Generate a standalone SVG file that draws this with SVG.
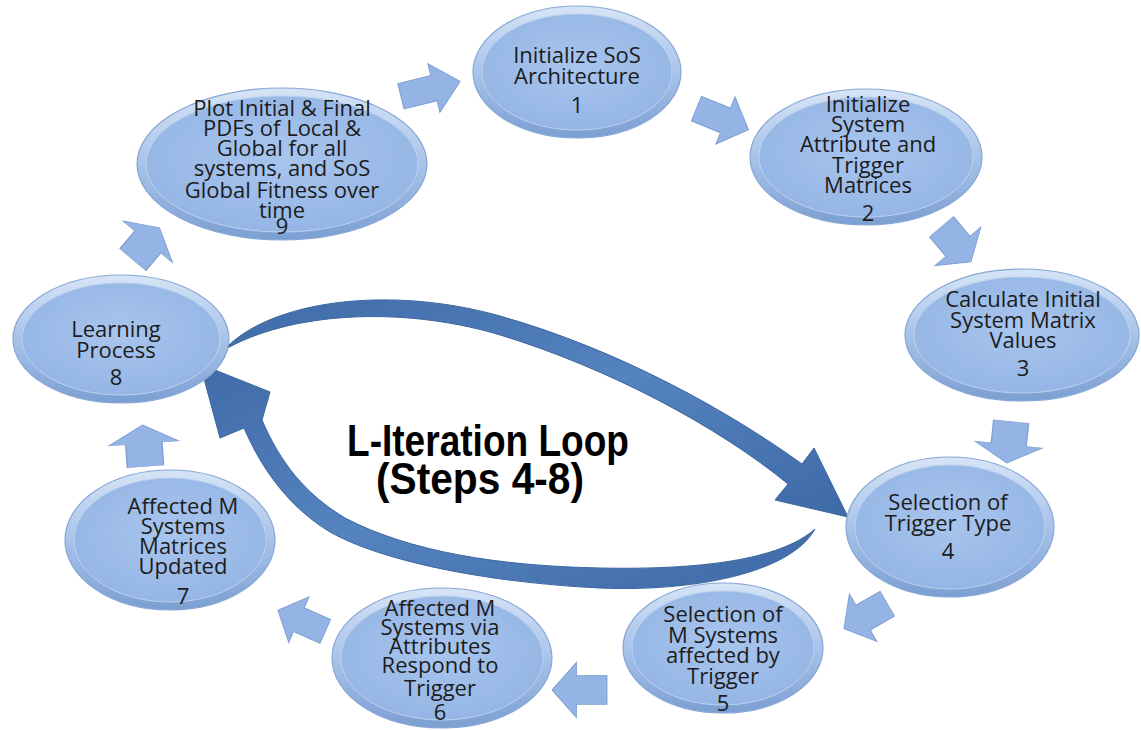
<svg xmlns="http://www.w3.org/2000/svg" width="1141" height="730" viewBox="0 0 1141 730">
<style>
.t{font-family:"Open Sans","Liberation Sans",sans-serif;font-size:22px;fill:#1c1c1c;text-anchor:middle}
.big{font-family:"Liberation Sans",Arial,sans-serif;font-weight:bold;font-size:44px;fill:#000;text-anchor:middle}
.ring{fill:url(#ringG);stroke:#86a6d4;stroke-width:1.2}
.core{fill:url(#coreG);stroke:#bcd1ee;stroke-width:1}
.blk{fill:#93b4e4;stroke:#7f9fd2;stroke-width:1}
.loop{fill:url(#loopG);stroke:#3b659e;stroke-width:1}
</style>
<defs>
<linearGradient id="ringG" x1="0" y1="0" x2="0" y2="1">
<stop offset="0" stop-color="#d6e4f6"/>
<stop offset="0.5" stop-color="#a8c3ea"/>
<stop offset="1" stop-color="#7b9fd2"/>
</linearGradient>
<radialGradient id="coreG" cx="0.5" cy="0.45" r="0.6">
<stop offset="0" stop-color="#a8c5ee"/>
<stop offset="1" stop-color="#93b4e4"/>
</radialGradient>
<linearGradient id="loopG" x1="0" y1="0" x2="1" y2="1">
<stop offset="0" stop-color="#3f6ca9"/>
<stop offset="0.5" stop-color="#5583bf"/>
<stop offset="1" stop-color="#3d6aa6"/>
</linearGradient>
<path id="ba" d="M-30,-13 L4,-13 L4,-25 L31,0 L4,25 L4,13 L-30,13 Z"/>
</defs>

<g id="connectors">
<use href="#ba" class="blk" transform="translate(430,89) rotate(-14)"/>
<use href="#ba" class="blk" transform="translate(722,119) rotate(22) scale(0.92,1.02)"/>
<use href="#ba" class="blk" transform="translate(956,244) rotate(50) scale(0.75,1.2)"/>
<use href="#ba" class="blk" transform="translate(1009,442) rotate(96) scale(0.68,1.35)"/>
<use href="#ba" class="blk" transform="translate(866,616) rotate(150) scale(0.82,1.1)"/>
<use href="#ba" class="blk" transform="translate(580,690) rotate(180) scale(0.9,1.1)"/>
<use href="#ba" class="blk" transform="translate(302,621) rotate(204) scale(0.85,1)"/>
<use href="#ba" class="blk" transform="translate(144,446) rotate(-94) scale(0.68,1.4)"/>
<use href="#ba" class="blk" transform="translate(146,244) rotate(-50) scale(0.68,1.3)"/>
<path class="loop" d="M224,350 C270,300 390,285 500,316 C620,350 730,412 802,464 L814,448 L848,517 L775,500 L788,484 C720,428 610,368 497,334 C400,306 290,312 224,350 Z"/>
<path class="loop" d="M815,529 C790,574 690,592 600,588 C480,582 380,560 330,532 C290,508 262,470 244,428 L220,438 L200,364 L270,392 L262,420 C280,462 305,494 345,518 C410,552 500,566 600,568 C700,570 780,560 815,529 Z"/>
</g>

<g id="n1"><ellipse class="ring" cx="577" cy="72" rx="104" ry="66"/><ellipse class="core" cx="577" cy="72" rx="95" ry="58"/>
<text class="t" x="577" y="63">Initialize SoS</text><text class="t" x="577" y="84">Architecture</text><text class="t" x="577" y="113">1</text></g>

<g id="n2"><ellipse class="ring" cx="866" cy="157" rx="116" ry="68"/><ellipse class="core" cx="866" cy="157" rx="107" ry="60"/>
<text class="t" x="868" y="112">Initialize</text><text class="t" x="868" y="132">System</text><text class="t" x="868" y="152">Attribute and</text><text class="t" x="868" y="173">Trigger</text><text class="t" x="868" y="193">Matrices</text><text class="t" x="868" y="221">2</text></g>

<g id="n3"><ellipse class="ring" cx="1022" cy="335" rx="117" ry="66"/><ellipse class="core" cx="1022" cy="335" rx="108" ry="58"/>
<text class="t" x="1023" y="307">Calculate Initial</text><text class="t" x="1023" y="328">System Matrix</text><text class="t" x="1023" y="348">Values</text><text class="t" x="1023" y="376">3</text></g>

<g id="n4"><ellipse class="ring" cx="950" cy="527" rx="104" ry="70"/><ellipse class="core" cx="950" cy="527" rx="95" ry="62"/>
<text class="t" x="948" y="510">Selection of</text><text class="t" x="948" y="531">Trigger Type</text><text class="t" x="948" y="559">4</text></g>

<g id="n5"><ellipse class="ring" cx="723" cy="648" rx="100" ry="65"/><ellipse class="core" cx="723" cy="648" rx="91" ry="57"/>
<text class="t" x="723" y="622">Selection of</text><text class="t" x="723" y="643">M Systems</text><text class="t" x="723" y="663">affected by</text><text class="t" x="723" y="684">Trigger</text><text class="t" x="723" y="711">5</text></g>

<g id="n6"><ellipse class="ring" cx="442" cy="658" rx="110" ry="70"/><ellipse class="core" cx="442" cy="658" rx="101" ry="62"/>
<text class="t" x="440" y="616">Affected M</text><text class="t" x="440" y="635">Systems via</text><text class="t" x="440" y="654">Attributes</text><text class="t" x="440" y="673">Respond to</text><text class="t" x="440" y="696">Trigger</text><text class="t" x="440" y="720">6</text></g>

<g id="n7"><ellipse class="ring" cx="170" cy="540" rx="105" ry="70"/><ellipse class="core" cx="170" cy="540" rx="96" ry="62"/>
<text class="t" x="183" y="514">Affected M</text><text class="t" x="183" y="534">Systems</text><text class="t" x="183" y="554">Matrices</text><text class="t" x="183" y="574">Updated</text><text class="t" x="183" y="604">7</text></g>

<g id="n8"><ellipse class="ring" cx="121" cy="339" rx="108" ry="64"/><ellipse class="core" cx="121" cy="339" rx="99" ry="56"/>
<text class="t" x="116" y="337">Learning</text><text class="t" x="116" y="358">Process</text><text class="t" x="116" y="385">8</text></g>

<g id="n9"><ellipse class="ring" cx="282" cy="164" rx="145" ry="76"/><ellipse class="core" cx="282" cy="164" rx="136" ry="68"/>
<text class="t" x="282" y="116">Plot Initial &amp; Final</text><text class="t" x="282" y="136">PDFs of Local &amp;</text><text class="t" x="282" y="156">Global for all</text><text class="t" x="282" y="176">systems, and SoS</text><text class="t" x="282" y="198">Global Fitness over</text><text class="t" x="282" y="218">time</text><text class="t" x="282" y="234">9</text></g>

<g id="center"><text class="big" x="488" y="456" textLength="282" lengthAdjust="spacingAndGlyphs">L-Iteration Loop</text><text class="big" x="480" y="494" textLength="208" lengthAdjust="spacingAndGlyphs">(Steps 4-8)</text></g>
</svg>
